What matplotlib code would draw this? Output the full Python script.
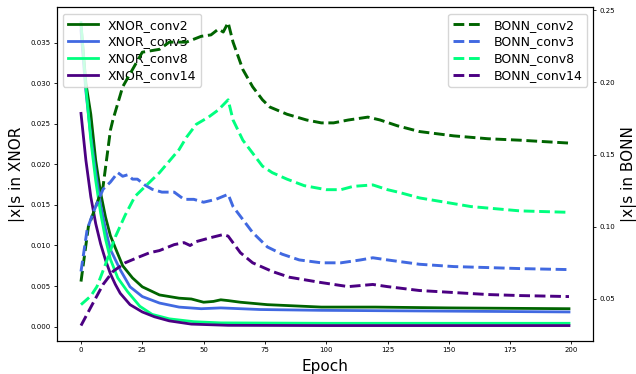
import matplotlib
matplotlib.use("Agg")
import matplotlib.pyplot as plt

# XNOR runs (left axis), sampled epochs
ep_x2 = [0, 2, 4, 6, 8, 10, 12, 14, 17, 21, 25, 32, 40, 45, 50, 54, 57, 60, 65, 76, 98, 120, 150, 199]
xnor_conv2 = [0.0372, 0.0300, 0.0262, 0.0205, 0.0165, 0.0135, 0.0112, 0.0097, 0.0075, 0.0060, 0.0049,
              0.0039, 0.0035, 0.0034, 0.0030, 0.0031, 0.0033, 0.0032, 0.0030, 0.0027, 0.0024, 0.0024, 0.0023, 0.0022]

ep_x3 = [0, 2, 4, 6, 8, 10, 12, 16, 20, 25, 32, 40, 49, 57, 65, 73, 98, 150, 199]
xnor_conv3 = [0.0365, 0.0290, 0.0235, 0.0190, 0.0150, 0.0120, 0.0095, 0.0070, 0.0049, 0.0037, 0.0029,
              0.0024, 0.0022, 0.0023, 0.0022, 0.0021, 0.0020, 0.0019, 0.0018]

ep_x8 = [0, 2, 4, 6, 8, 10, 12, 15, 19, 24, 29, 36, 46, 57, 100, 199]
xnor_conv8 = [0.0375, 0.0295, 0.0230, 0.0180, 0.0140, 0.0108, 0.0083, 0.0060, 0.0043, 0.0025, 0.0015,
              0.00095, 0.0006, 0.00045, 0.0004, 0.0004]

ep_x14 = [0, 2, 4, 6, 8, 10, 12, 14, 16, 20, 25, 30, 36, 45, 60, 100, 199]
xnor_conv14 = [0.0263, 0.0205, 0.0160, 0.0127, 0.0102, 0.0082, 0.0065, 0.0052, 0.0041, 0.0027, 0.0018,
               0.0012, 0.0007, 0.0003, 0.00015, 0.00012, 0.00012]

# BONN runs (right axis)
ep_b2 = [0, 3, 9, 12, 13, 17, 21, 25, 32, 36, 43, 49, 53, 56, 58, 60, 62, 66, 70, 74, 77, 84, 92, 98,
         103, 109, 117, 122, 129, 138, 152, 166, 179, 199]
bonn_conv2 = [0.062, 0.100, 0.128, 0.167, 0.174, 0.197, 0.209, 0.221, 0.223, 0.228, 0.228, 0.232, 0.233,
              0.237, 0.235, 0.2415, 0.228, 0.209, 0.197, 0.188, 0.183, 0.178, 0.174, 0.172, 0.172, 0.174,
              0.176, 0.174, 0.170, 0.166, 0.163, 0.161, 0.160, 0.158]

ep_b3 = [0, 2.5, 5, 9, 12, 15, 17, 19, 21, 23, 26, 29, 33, 38, 42, 46, 50, 55, 60, 62, 66, 70, 76, 82,
         89, 98, 106, 114, 119, 125, 138, 152, 166, 179, 199]
bonn_conv3 = [0.069, 0.098, 0.110, 0.126, 0.131, 0.1375, 0.135, 0.136, 0.133, 0.133, 0.129, 0.126, 0.124,
              0.124, 0.119, 0.119, 0.117, 0.119, 0.1225, 0.114, 0.105, 0.096, 0.086, 0.081, 0.077, 0.075,
              0.075, 0.077, 0.0785, 0.077, 0.074, 0.0724, 0.0717, 0.071, 0.0703]

ep_b8 = [0, 4, 6.5, 10, 14, 18, 22, 25, 32, 40, 43, 47, 52, 56, 60, 62, 66, 70, 74, 78, 84, 91, 100,
         106, 111, 119, 125, 130, 138, 159, 179, 199]
bonn_conv8 = [0.046, 0.052, 0.0585, 0.074, 0.093, 0.108, 0.121, 0.126, 0.1375, 0.1535, 0.162, 0.171,
              0.176, 0.181, 0.188, 0.174, 0.160, 0.151, 0.142, 0.1375, 0.133, 0.1285, 0.1257, 0.1257,
              0.128, 0.129, 0.1257, 0.1237, 0.120, 0.114, 0.111, 0.110]

ep_b14 = [0, 5, 9, 13, 18, 23, 28, 32, 38, 42, 44.5, 47, 53, 58, 60, 65, 70, 78, 85, 98, 109, 119, 125,
          138, 152, 166, 179, 199]
bonn_conv14 = [0.0315, 0.0474, 0.060, 0.069, 0.075, 0.0786, 0.082, 0.0835, 0.0876, 0.089, 0.087, 0.0897,
               0.0925, 0.0946, 0.0935, 0.082, 0.075, 0.069, 0.065, 0.0613, 0.0585, 0.060, 0.0585, 0.0558,
               0.0544, 0.053, 0.0523, 0.0516]

colors = ["darkgreen", "royalblue", "springgreen", "indigo"]
names = ["conv2", "conv3", "conv8", "conv14"]

fig, ax1 = plt.subplots(figsize=(6.36, 3.74), dpi=100)
fig.subplots_adjust(left=0.089, right=0.933, bottom=0.089, top=0.98)
ax2 = ax1.twinx()

xnor = [(ep_x2, xnor_conv2), (ep_x3, xnor_conv3), (ep_x8, xnor_conv8), (ep_x14, xnor_conv14)]
bonn = [(ep_b2, bonn_conv2), (ep_b3, bonn_conv3), (ep_b8, bonn_conv8), (ep_b14, bonn_conv14)]

for (ep, v), c, n in zip(xnor, colors, names):
    ax1.plot(ep, v, color=c, lw=2, label="XNOR_" + n)
for (ep, v), c, n in zip(bonn, colors, names):
    ax2.plot(ep, v, color=c, lw=2.1, ls="--", label="BONN_" + n)

ax1.set_xlabel("Epoch", fontsize=11, labelpad=4)
ax1.set_ylabel("|x|s in XNOR", fontsize=11)
ax2.set_ylabel("|x|s in BONN", fontsize=11)
for ax in (ax1, ax2):
    ax.tick_params(labelsize=5, length=2.5, width=0.6, pad=2)
ax1.set_xticks([0, 25, 50, 75, 100, 125, 150, 175, 200])
ax1.legend(loc="upper left", fontsize=9, handlelength=2.4, borderpad=0.4, labelspacing=0.3)
ax2.legend(loc="upper right", fontsize=9, handlelength=2.4, borderpad=0.4, labelspacing=0.3)

fig.savefig("out.png", dpi=100)
